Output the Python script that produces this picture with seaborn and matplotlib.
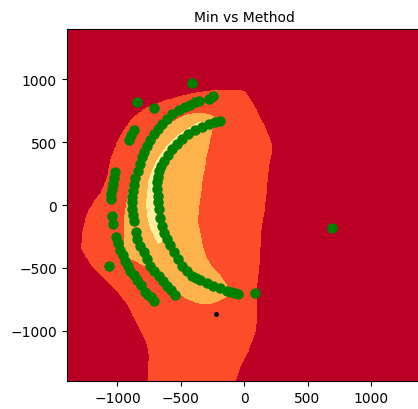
import numpy as np
import matplotlib.pyplot as plt
import seaborn as sns
from matplotlib.path import Path

# outline of the outer (orange-red) region
blob_x = [-766, -766, -754, -780, -845, -924, -1002, -1108, -1213, -1291, -1283, -1260,
          -1228, -1181, -1134, -1094, -1070, -1055, -1016, -963, -884, -780, -648, -517,
          -386, -300, -150, -31, 8, 73, 126, 179, 218, 231, 205, 191, 179, 152, 139, 126,
          110, 108, 94, 47, -31, -90]
blob_y = [-1500, -1398, -1199, -1092, -960, -801, -695, -589, -483, -350, -215, -111,
          -32, 48, 103, 207, 300, 379, 485, 591, 698, 777, 830, 870,
          897, 915, 923, 923, 909, 817, 710, 605, 499, 446, 340, 207, 48, -111, -217, -483,
          -642, -827, -1010, -1146, -1305, -1500]

# outline of the orange crescent
orange_x = [-215, -307, -409, -491, -622, -701, -780, -832, -872, -906, -929, -945, -953,
            -953, -945, -874, -780, -701, -622, -543, -465, -386, -291, -205, -126, -94,
            -124, -189, -252, -299, -333, -360, -354, -339, -320, -307, -294, -268, -242]
orange_y = [700, 740, 736, 710, 644, 578, 485, 379, 273, 167, 48, -72, -191,
            -310, -414, -445, -493, -557, -628, -692, -748, -780, -796, -772, -732, -700,
            -642, -549, -485, -398, -270, -127, -32, 88, 207, 273, 379, 485, 605]

# outline of the light yellow strip
yellow_x = [-346, -441, -535, -614, -677, -724, -756, -772, -780, -772, -748, -717, -677,
            -622, -654, -669, -669, -661, -638, -598, -535, -457, -362, -268]
yellow_y = [668, 621, 557, 477, 390, 302, 207, 111, 8, -88, -175, -255, -318,
            -270, -175, -72, 48, 167, 270, 366, 461, 541, 605, 652]

# green points
inner_x = [-189, -230, -281, -330, -386, -440, -491, -530, -569, -603, -635, -655, -670,
           -680, -685, -685, -683, -680, -675, -665, -648, -630, -609, -585, -557, -525,
           -491, -452, -412, -380, -346, -295, -242, -190, -136, -100, -71, -45]
inner_y = [671, 660, 644, 622, 597, 563, 525, 487, 446, 400, 352, 312, 270,
           225, 180, 130, 74, 20, -32, -100, -165, -220, -270, -322, -376, -430,
           -483, -525, -562, -578, -597, -620, -642, -663, -682, -692, -700, -705]

middle_x = [-281, -242, -360, -386, -425, -465, -515, -569, -610, -648, -683, -714, -742,
            -766, -787, -806, -822, -840, -858, -872, -880, -884, -884, -882, -878, -872,
            -855, -845, -820, -793, -767, -740, -708, -675, -642, -609, -576, -543]
middle_y = [843, 870, 825, 817, 797, 777, 752, 724, 685, 644, 605, 565, 518,
            472, 425, 379, 326, 273, 215, 160, 110, 60, 21, -30, -80, -125,
            -215, -270, -325, -376, -430, -483, -522, -562, -602, -642, -680, -716]

outer_x = [-845, -714, -412, -870, -890, -911, -1016, -1025, -1032, -1040, -1047, -1052,
           -1042, -1037, -1010, -995, -976, -957, -937, -918, -898, -872, -845, -815,
           -785, -760, -735, -714, -1068, 693, 87]
outer_y = [822, 769, 968, 595, 556, 517, 260, 215, 170, 125, 85, 45,
           -85, -150, -255, -300, -355, -400, -443, -485, -523, -560, -595, -640,
           -690, -712, -735, -760, -483, -183, -700]

black_x = [-220]
black_y = [-867]

tick_vals = [-1000, -500, 0, 500, 1000]

# label grid: 3 = background, 2 = blob, 1 = orange, 0 = yellow
xs = np.linspace(-1400, 1400, 401)
gx, gy = np.meshgrid(xs, xs)
pts = np.column_stack([gx.ravel(), gy.ravel()])


def inside(px, py):
    return Path(np.column_stack([px, py])).contains_points(pts).reshape(gx.shape)


level = np.full(gx.shape, 3.0)
level[inside(blob_x, blob_y)] = 2
level[inside(orange_x, orange_y)] = 1
level[inside(yellow_x, yellow_y)] = 0

fig = plt.figure(figsize=(4.18, 4.10), dpi=100)
ax = fig.add_axes([0.1596, 0.0683, 0.849, 0.8585])

fill_colors = plt.get_cmap('YlOrRd')([0.125, 0.375, 0.625, 0.875])
ax.contourf(gx, gy, level, levels=[-0.5, 0.5, 1.5, 2.5, 3.5], colors=fill_colors)

green_x = inner_x + middle_x + outer_x
green_y = inner_y + middle_y + outer_y
sns.scatterplot(x=green_x, y=green_y, color='green', edgecolor='green', s=36,
                linewidth=1.5, ax=ax, legend=False)
sns.scatterplot(x=black_x, y=black_y, color='black', edgecolor='black', s=4,
                linewidth=1.5, ax=ax, legend=False)

ax.set_xlim(-1400, 1400)
ax.set_ylim(-1400, 1400)
ax.set_xticks(tick_vals)
ax.set_yticks(tick_vals)
ax.set_title('Min vs Method', fontsize=10)

fig.savefig('out.png', dpi=100)
